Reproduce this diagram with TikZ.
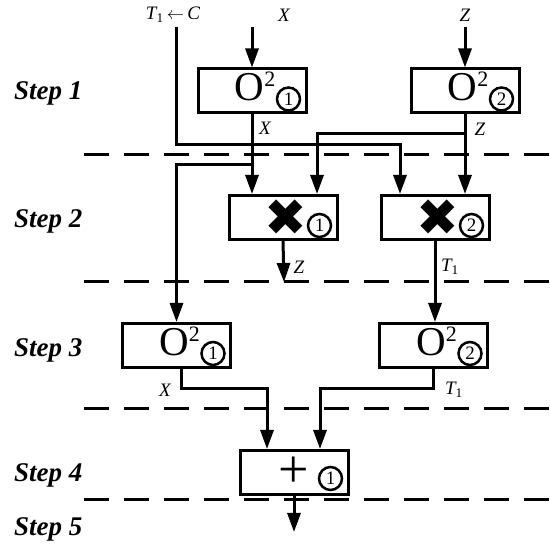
\documentclass[tikz,border=0pt]{standalone}
\usepackage{fontspec}
\setmainfont{Liberation Serif}
\newfontfamily\symfont{DejaVu Sans}
\usetikzlibrary{arrows.meta, positioning}

\newcommand{\osq}{{\fontsize{41}{41}\selectfont O}\raisebox{14pt}{\fontsize{22}{22}\selectfont 2}}

\begin{document}
\begin{tikzpicture}[
    opbox/.style={draw, line width=3pt, minimum width=108pt,
                  minimum height=44pt, inner sep=0pt},
    num/.style={draw, circle, line width=2.5pt, minimum size=23pt,
                inner sep=0pt, font=\fontsize{19}{19}\selectfont},
    sq/.style={anchor=base east, inner sep=0pt},
    arr/.style={-{Triangle[length=19pt, width=13pt]}, line width=3pt},
    sep/.style={line width=3pt, dash pattern=on 25pt off 15pt},
    steplab/.style={anchor=base west, inner sep=0pt,
                    font=\fontsize{27}{27}\selectfont\bfseries\itshape},
    var/.style={font=\fontsize{19}{19}\selectfont\itshape},
    x=1pt, y=-1pt
  ]
  \useasboundingbox (0,0) rectangle (550,548);

  % steps
  \node[steplab] (st1) at (14,100) {Step 1};
  \node[steplab] (st2) at (14,228) {Step 2};
  \node[steplab] (st3) at (14,357) {Step 3};
  \node[steplab] (st4) at (14,482) {Step 4};
  \node[steplab] (st5) at (14,536) {Step 5};

  \draw[sep] (84,155) -- (550,155);
  \draw[sep] (84,282) -- (550,282);
  \draw[sep] (84,409) -- (550,409);
  \draw[sep] (84,500) -- (550,500);

  % operation boxes
  \node[opbox] (sqa) at (252,91) {};
  \node[sq] at ([xshift=-32pt, yshift=-10pt]sqa.east) {\osq};
  \node[num] at ([xshift=-19pt, yshift=-8pt]sqa.east) {1};

  \node[opbox] (sqb) at (465,91) {};
  \node[sq] at ([xshift=-32pt, yshift=-10pt]sqb.east) {\osq};
  \node[num] at ([xshift=-19pt, yshift=-8pt]sqb.east) {2};

  \node[opbox] (mula) at (283,217.5) {};
  \node[font=\symfont\fontsize{51}{51}\selectfont] at ([xshift=3pt]mula.center) {✖};
  \node[num] at ([xshift=-19pt, yshift=-8pt]mula.east) {1};

  \node[opbox] (mulb) at (435,217.5) {};
  \node[font=\symfont\fontsize{51}{51}\selectfont] at ([xshift=3pt]mulb.center) {✖};
  \node[num] at ([xshift=-19pt, yshift=-8pt]mulb.east) {2};

  \node[opbox] (sqc) at (176.5,345.5) {};
  \node[sq] at ([xshift=-32pt, yshift=-10pt]sqc.east) {\osq};
  \node[num] at ([xshift=-19pt, yshift=-8pt]sqc.east) {1};

  \node[opbox] (sqd) at (433.5,345.5) {};
  \node[sq] at ([xshift=-32pt, yshift=-10pt]sqd.east) {\osq};
  \node[num] at ([xshift=-19pt, yshift=-8pt]sqd.east) {2};

  \node[opbox] (sum) at (294,472.5) {};
  \node[font=\fontsize{54}{54}\selectfont] at (sum.center) {+};
  \node[num] at ([xshift=-19pt, yshift=-6pt]sum.east) {1};

  % inputs
  \node[var] (tin) at (173,15) {T\textsubscript{\upshape 1}\,$\leftarrow$\,C};
  \node[var] (xin) at (284,15) {X};
  \node[var] (zin) at (465,15) {Z};
  \coordinate (ttop) at (176,27);
  \coordinate (xtop) at (252,27);
  \coordinate (ztop) at (465,27);

  \draw[arr] (xtop) -- (sqa.north);
  \draw[arr] (ztop) -- (sqb.north);
  \draw[arr] (ttop) -- ++(0,118) -| ([xshift=-35pt]mulb.north);

  % step 1 to step 2/3
  \draw[arr] (sqa.south) -- (sqa.south |- mula.north);
  \draw[arr] ([yshift=-50pt]sqa.south) -| (sqc.north);
  \draw[arr] (sqb.south) -- (sqb.south |- mulb.north);
  \draw[arr] ([yshift=-19pt]sqb.south) -| ([xshift=34pt]mula.north);
  \node[var] (lxa) at (265,128) {X};
  \node[var] (lza) at (480,129) {Z};

  % step 2 outputs
  \coordinate (zend) at (284,282);
  \draw[arr] (mula.south) -- (zend);
  \draw[arr] (mulb.south) -- (mulb.south |- sqd.north);
  \node[var] (lzb) at (299,267) {Z};
  \node[var] (ltb) at (450,267) {T\textsubscript{\upshape 1}};

  % step 3 outputs
  \draw[arr] ([xshift=5pt]sqc.south) -- ++(0,20) -| ([xshift=-27pt]sum.north);
  \draw[arr] (sqd.south) -- ++(0,20) -| ([xshift=26pt]sum.north);
  \node[var] (lxc) at (165,390) {X};
  \node[var] (ltc) at (454,390) {T\textsubscript{\upshape 1}};

  % result
  \coordinate (out) at (294,532);
  \draw[arr] (sum.south) -- (out);
\end{tikzpicture}
\end{document}
